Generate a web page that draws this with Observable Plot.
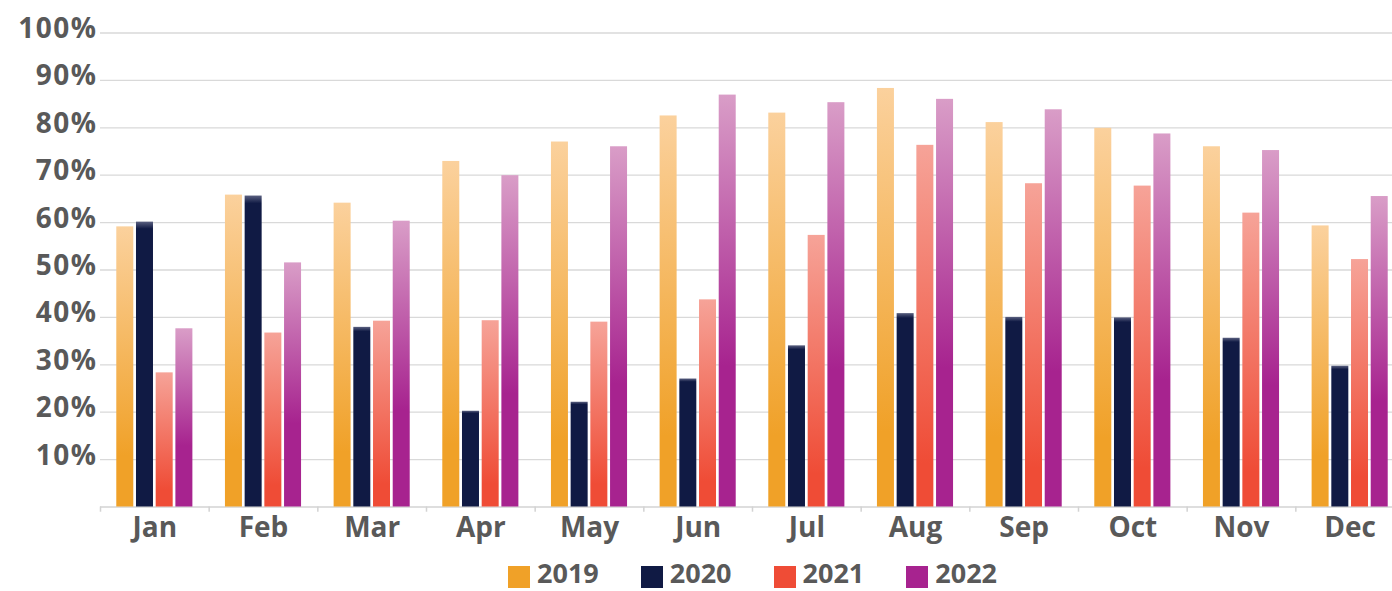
<!DOCTYPE html>
<html>
<head>
<meta charset="utf-8">
<script src="https://cdn.jsdelivr.net/npm/d3@7"></script>
<script src="https://cdn.jsdelivr.net/npm/@observablehq/plot@0.6"></script>
<style>
  html, body { margin: 0; padding: 0; background: #fff; }
  #chart { width: 1392px; height: 591px; overflow: hidden; font-family: "Open Sans", sans-serif; }
  #legend { display: flex; align-items: flex-start; gap: 42px; padding-left: 508px; height: 41px; box-sizing: border-box; padding-top: 4px; }
  .item { display: flex; align-items: center; gap: 7px; font-size: 27px; font-weight: 700; color: #595959; line-height: normal; }
  .sw { width: 22px; height: 22px; display: inline-block; position: relative; top: 4px; }
  .yax text { letter-spacing: 1.5px; }
</style>
</head>
<body>
<div id="chart"></div>
<script>
const months = ["Jan","Feb","Mar","Apr","May","Jun","Jul","Aug","Sep","Oct","Nov","Dec"];
const years = ["2019","2020","2021","2022"];
const v2019 = [59.1, 65.8, 64.1, 72.9, 77.0, 82.5, 83.1, 88.3, 81.1, 79.9, 76.0, 59.3];
const v2020 = [60.1, 65.6, 37.9, 20.2, 22.1, 27.0, 34.0, 40.8, 40.0, 39.9, 35.6, 29.7];
const v2021 = [28.3, 36.7, 39.2, 39.3, 39.0, 43.7, 57.3, 76.3, 68.2, 67.7, 62.0, 52.2];
const v2022 = [37.6, 51.5, 60.3, 69.9, 76.0, 86.9, 85.3, 86.0, 83.8, 78.7, 75.2, 65.5];
const yTicks = [10, 20, 30, 40, 50, 60, 70, 80, 90, 100];
const colors = ["#f0a128", "#101a44", "#ef4c36", "#a7238f"];
const gradStops = [
  [[0, "#fbd19d"], [0.82, "#f0a128"], [1, "#f0a128"]],
  [[0, "#5a6080"], [0.025, "#101a44"], [1, "#101a44"]],
  [[0, "#f6a398"], [0.88, "#ef4c36"], [1, "#ef4c36"]],
  [[0, "#d99dc7"], [0.66, "#a7238f"], [1, "#a7238f"]]
];

const series = [v2019, v2020, v2021, v2022];
const data = series.map((vals, i) => months.map((m, j) => ({month: m, year: years[i], value: vals[j]})));

const step = 19.7;
const barW = 17;
const band = (1404 - 100) / 12;
const inset = (band - barW) / 2;

const font = {fontSize: 28, fontWeight: 700, fill: "#595959"};

const plot = Plot.plot({
  width: 1392,
  height: 550,
  marginLeft: 100,
  marginRight: 0,
  marginTop: 20,
  marginBottom: 43,
  style: {fontFamily: "'Open Sans', sans-serif", background: "#fff", overflow: "visible"},
  x: {domain: months, range: [100, 1404], padding: 0, round: false, label: null},
  y: {domain: [0, 100], range: [506.5, 32.5], label: null},
  marks: [
    Plot.gridY(yTicks, {stroke: "#d9d9d9", strokeOpacity: 1, strokeWidth: 1.3}),
    Plot.ruleY([0], {stroke: "#d3d3d3", strokeWidth: 1.5}),
    Plot.ruleX(months, {x: d => d, dx: -band / 2, y1: 0, y2: -1.1, stroke: "#d3d3d3", strokeWidth: 1.5}),
    ...data.map((d, i) => Plot.barY(d, {
      x: "month", y: "value",
      fill: `url(#grad${i})`,
      insetLeft: inset, insetRight: inset,
      dx: (i - 1.5) * step
    })),
    Plot.axisY(yTicks, {tickSize: 0, tickPadding: 3, tickFormat: d => d + "%", ...font, dy: -4, className: "yax"}),
    Plot.axisX(months, {tickSize: 0, tickPadding: 10, ...font})
  ]
});

const svg = d3.select(plot);
const defs = svg.insert("defs", ":first-child");
gradStops.forEach((stops, i) => {
  const g = defs.append("linearGradient").attr("id", `grad${i}`)
    .attr("x1", 0).attr("y1", 0).attr("x2", 0).attr("y2", 1);
  stops.forEach(([o, c]) => g.append("stop").attr("offset", o).attr("stop-color", c));
});

const chart = document.getElementById("chart");
chart.appendChild(plot);

const legend = document.createElement("div");
legend.id = "legend";
years.forEach((y, i) => {
  const it = document.createElement("div");
  it.className = "item";
  const sw = document.createElement("span");
  sw.className = "sw";
  sw.style.background = colors[i];
  const t = document.createElement("span");
  t.textContent = y;
  it.appendChild(sw);
  it.appendChild(t);
  legend.appendChild(it);
});
chart.appendChild(legend);
</script>
</body>
</html>
